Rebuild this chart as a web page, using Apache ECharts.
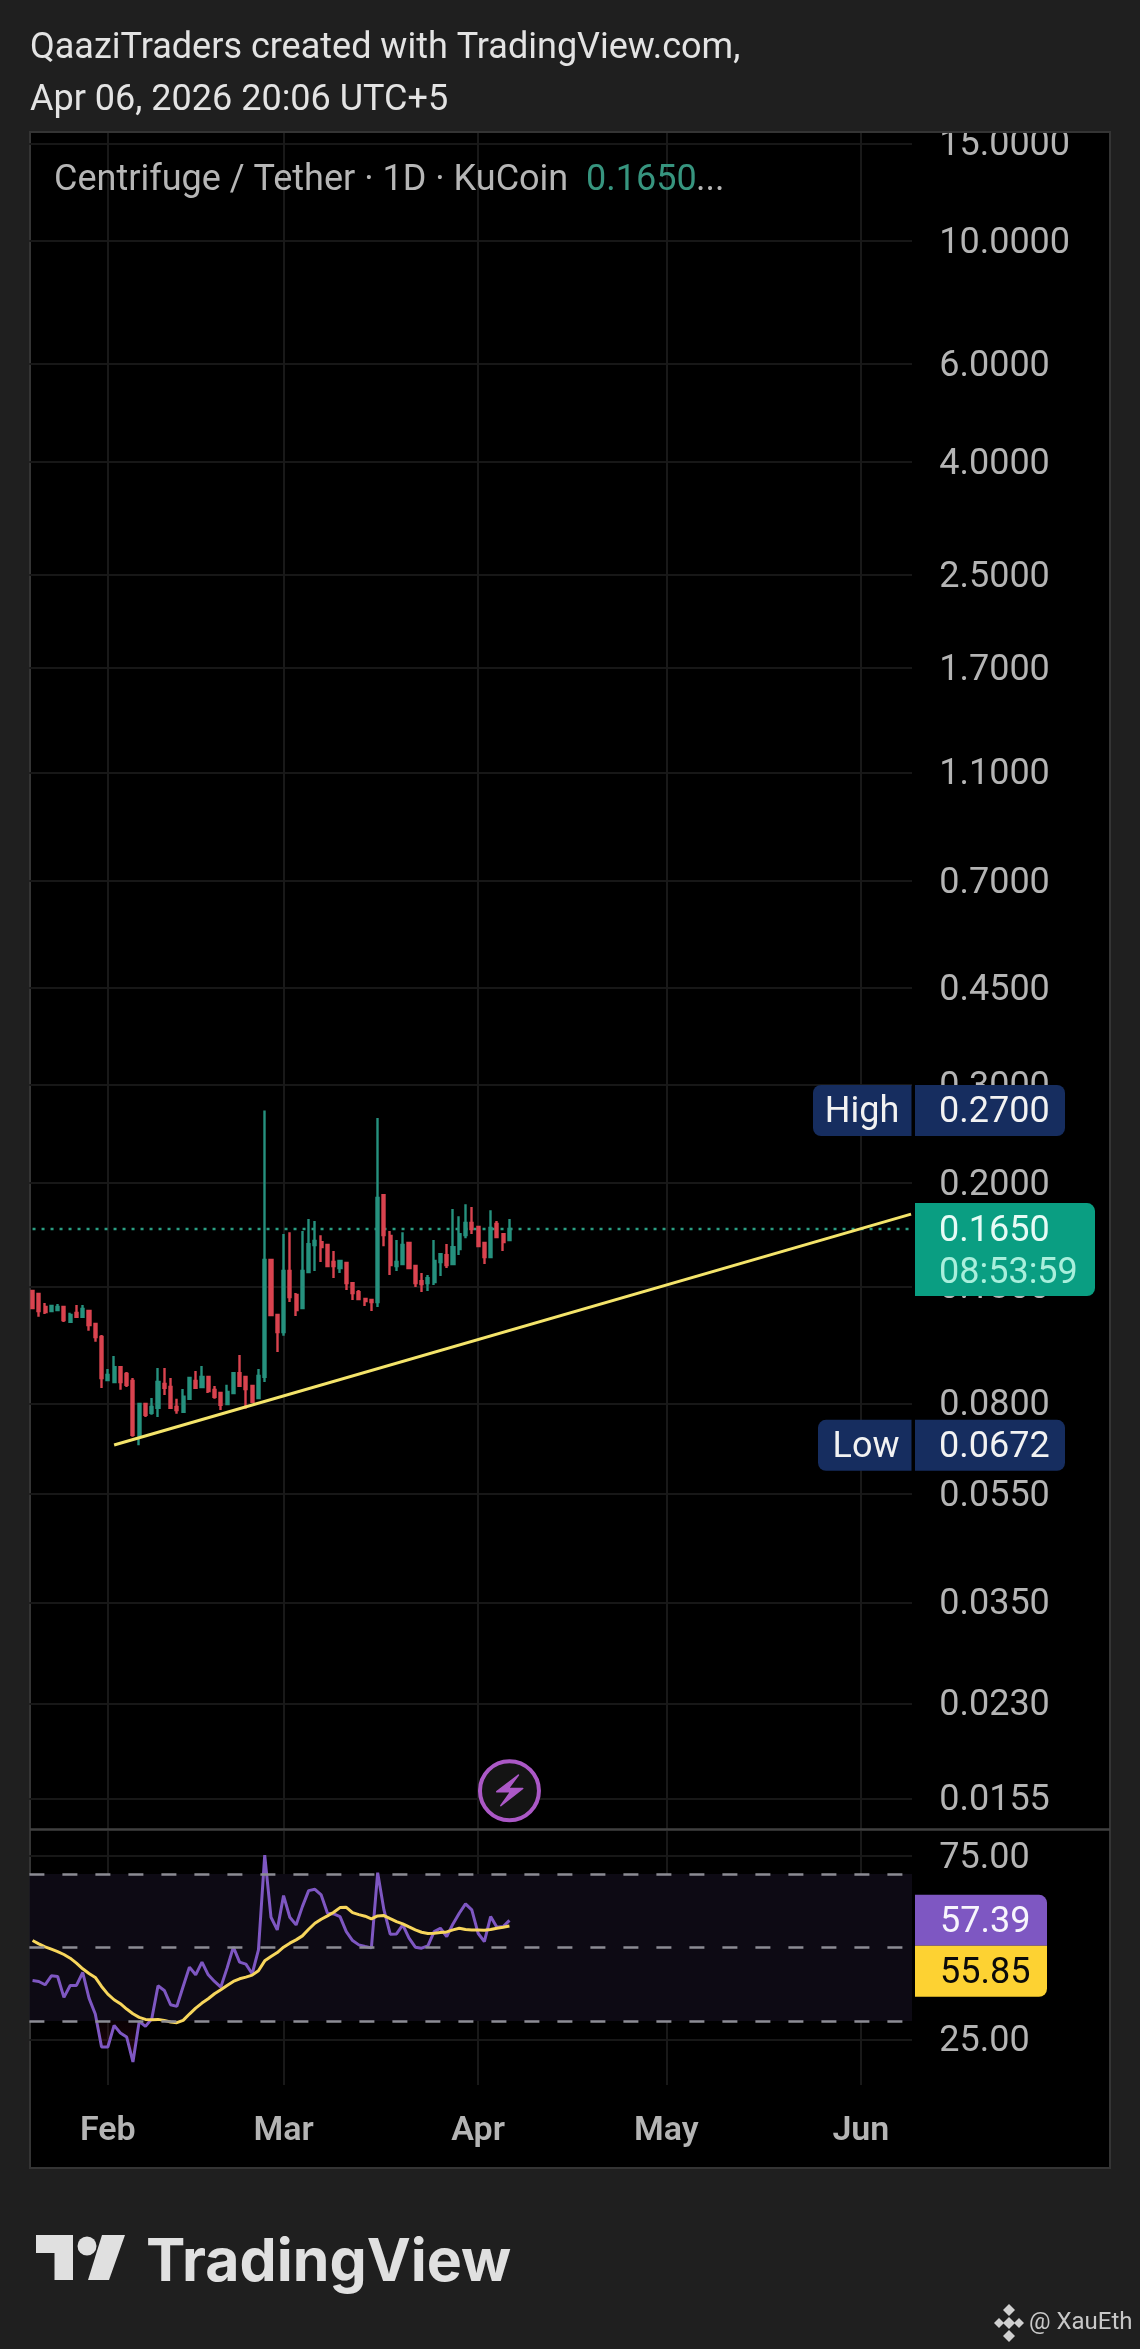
<!DOCTYPE html>
<html>
<head>
<meta charset="utf-8">
<style>html,body{margin:0;padding:0;background:#1f1f1f}#c{width:1140px;height:2349px}</style>
<script src="https://cdn.jsdelivr.net/npm/echarts@6/dist/echarts.min.js"></script>
</head>
<body>
<div id="c"></div>
<script>
const opens = [.1276,.1260,.1194,.1174,.1179,.1194,.1122,.1165,.1146,.1174,.1113,.1054,.0881,.0874,.0930,.0904,.0878,.0702,.0798,.0769,.0785,.0867,.0856,.0788,.0772,.0815,.0878,.0856,.0893,.0846,.0835,.0798,.0835,.0907,.0893,.0860,.0818,.0893,.1451,.1155,.1076,.1386,.1255,.1189,.1380,.1544,.1563,.1544,.1439,.1404,.1433,.1318,.1270,.1234,.1229,.1219,.1900,.1603,.1415,.1427,.1557,.1415,.1329,.1318,.1324,.1439,.1481,.1427,.1518,.1609,.1692,.1664,.1557,.1469,.1685,.1616,.1576];
const closes = [.1189,.1174,.1169,.1199,.1194,.1131,.1155,.1146,.1184,.1108,.1054,.0889,.0900,.0930,.0874,.0864,.0702,.0798,.0763,.0788,.0874,.0853,.0785,.0778,.0822,.0889,.0853,.0893,.0842,.0822,.0795,.0839,.0907,.0860,.0849,.0805,.0896,.1451,.1155,.1076,.1386,.1244,.1179,.1386,.1550,.1570,.1531,.1415,.1415,.1445,.1318,.1265,.1234,.1224,.1219,.1877,.1609,.1421,.1439,.1544,.1404,.1318,.1313,.1346,.1445,.1487,.1421,.1531,.1616,.1692,.1650,.1537,.1469,.1657,.1596,.1563,.1650];
const lows = [.1184,.1146,.1160,.1174,.1179,.1122,.1122,.1141,.1146,.1081,.1033,.0853,.0881,.0871,.0846,.0856,.0696,.0672,.0756,.0763,.0756,.0828,.0785,.0766,.0772,.0811,.0849,.0853,.0835,.0815,.0778,.0798,.0835,.0860,.0782,.0801,.0818,.0874,.1155,.0990,.1059,.1219,.1150,.1189,.1380,.1386,.1439,.1409,.1346,.1375,.1281,.1229,.1229,.1199,.1174,.1194,.1537,.1363,.1386,.1427,.1404,.1297,.1270,.1276,.1308,.1358,.1404,.1427,.1481,.1589,.1616,.1537,.1427,.1469,.1589,.1506,.1576];
const highs = [.1276,.1260,.1214,.1204,.1209,.1194,.1165,.1204,.1204,.1174,.1113,.1063,.0923,.0974,.0930,.0911,.0889,.0798,.0798,.0818,.0926,.0926,.0889,.0815,.0849,.0893,.0915,.0934,.0893,.0860,.0839,.0864,.0911,.0978,.0893,.0860,.0923,.2700,.1451,.1155,.1616,.1629,.1265,.1636,.1720,.1706,.1609,.1550,.1506,.1451,.1433,.1318,.1281,.1239,.1234,.2617,.1900,.1636,.1576,.1629,.1557,.1421,.1375,.1363,.1576,.1487,.1550,.1793,.1741,.1830,.1808,.1671,.1563,.1785,.1706,.1623,.1720];
const rsi = [41.04,40.77,39.86,42.31,42.13,36.43,39.68,39.68,43.21,36.24,31.90,22.94,22.94,28.82,26.74,25.66,18.87,29.91,28.55,30.63,39.59,38.33,34.43,33.98,39.41,44.66,42.58,46.02,42.58,40.77,39.23,44.39,50.09,46.02,45.48,42.85,49.37,75.16,58.24,54.80,64.12,58.24,56.15,61.13,65.48,65.84,64.30,59.32,59.14,58.42,54.34,51.90,50.72,50.27,49.91,70.36,60.23,53.62,53.71,56.15,52.53,50.09,49.82,50.45,54.34,55.25,52.99,56.43,59.32,61.86,60.23,53.89,51.63,58.42,55.52,55.70,57.39];
const rsiMa = [51.90,51.00,50.18,49.55,48.91,48.10,47.10,45.75,44.21,42.94,41.86,39.41,37.33,35.79,34.71,33.26,31.99,31.00,30.45,30.36,30.45,30.18,29.73,29.55,30.18,31.90,33.53,34.89,36.06,37.42,38.51,39.68,40.77,41.49,41.95,42.49,43.67,46.38,47.56,48.64,50.09,51.18,52.08,53.17,54.98,56.61,57.69,58.60,59.59,60.86,60.95,59.50,58.96,58.51,57.78,58.60,58.69,57.87,57.06,56.43,55.61,54.80,54.16,53.80,53.89,54.07,54.25,54.80,55.25,54.89,54.80,54.80,54.71,54.89,55.25,55.52,55.85];
const priceTicks = [15,10,6,4,2.5,1.7,1.1,.7,.45,.3,.2,.13,.08,.055,.035,.023,.0155];
const rsiTicks = [25,75];
const rsiLevels = [70,50,30];
const monthNames = {'02':'Feb','03':'Mar','04':'Apr','05':'May','06':'Jun'};
const trendPrices = [.0673,.1756];
const lastPrice = .1650, highPrice = .2700, lowPrice = .0672, lastRsi = 57.39, lastMa = 55.85;

const categories = [];
for (let d = new Date(Date.UTC(2026,0,20)); d <= new Date(Date.UTC(2026,5,9)); d = new Date(d.getTime()+864e5)) {
  categories.push(d.toISOString().slice(0,10));
}
const candles = opens.map((o,i)=>[o,closes[i],lows[i],highs[i]]);
const isMonth = (i,v)=>v.slice(8)==='01' && monthNames[v.slice(5,7)]!==undefined;
const UP='#26917e', DOWN='#d9434f', F='Roboto, sans-serif', LAB='#b4b4b4';
const V_GRID='#191919', H_GRID='#171717';

const chart = echarts.init(document.getElementById('c'));
chart.setOption({
  animation:false,
  backgroundColor:'#1f1f1f',
  grid:[
    {left:29.4,width:884.8,top:132,height:1697},
    {left:29.4,width:884.8,top:1831,height:254}
  ],
  xAxis:[
    {type:'category',gridIndex:0,data:categories,boundaryGap:true,
     axisLine:{show:false},axisTick:{show:false},axisLabel:{show:false},
     splitLine:{show:true,alignWithLabel:true,interval:isMonth,lineStyle:{color:V_GRID,width:2}}},
    {type:'category',gridIndex:1,data:categories,boundaryGap:true,
     axisLine:{show:false},axisTick:{show:false,alignWithLabel:true},
     axisLabel:{show:true,interval:isMonth,margin:46,verticalAlign:'middle',color:LAB,fontFamily:F,fontSize:34,fontWeight:600,
       formatter:v=>monthNames[v.slice(5,7)]},
     splitLine:{show:true,alignWithLabel:true,interval:isMonth,lineStyle:{color:V_GRID,width:2}}}
  ],
  yAxis:[
    {type:'log',gridIndex:0,position:'right',logBase:10,min:0.01365,max:15.73,
     axisLine:{show:false},axisTick:{show:false,customValues:priceTicks},
     axisLabel:{customValues:priceTicks,color:LAB,fontFamily:F,fontSize:36,margin:25,verticalAlign:'top',lineHeight:6,formatter:v=>(+v).toFixed(4),hideOverlap:false,showMinLabel:true,showMaxLabel:true},
     splitLine:{show:true,lineStyle:{color:H_GRID,width:2}}},
    {type:'value',gridIndex:1,position:'right',min:12.6,max:81.7,
     axisLine:{show:false},axisTick:{show:false,customValues:rsiTicks},
     axisLabel:{customValues:rsiTicks,color:LAB,fontFamily:F,fontSize:36,margin:25,verticalAlign:'top',lineHeight:6,formatter:v=>(+v).toFixed(2)},
     splitLine:{show:true,lineStyle:{color:H_GRID,width:2}}}
  ],
  series:[
    {type:'line',name:'Last price',xAxisIndex:0,yAxisIndex:0,z:1,symbol:'none',
     lineStyle:{color:'#2a9d82',type:[3,6],width:2.5},
     data:[[categories[0],lastPrice],[categories[140],lastPrice]]},
    {type:'candlestick',name:'CFG/USDT',xAxisIndex:0,yAxisIndex:0,data:candles,barWidth:2.6,
     itemStyle:{color:UP,color0:DOWN,borderColor:UP,borderColor0:DOWN,borderColorDoji:UP,borderWidth:2.4}},
    {type:'line',name:'Trend',xAxisIndex:0,yAxisIndex:0,z:4,symbol:'none',
     lineStyle:{color:'#f4e46a',width:3},
     data:[[categories[13],trendPrices[0]],[categories[140],trendPrices[1]]]},
    {type:'line',name:'Oversold',xAxisIndex:1,yAxisIndex:1,symbol:'none',lineStyle:{width:0,opacity:0},z:2,
     areaStyle:{origin:30,color:new echarts.graphic.LinearGradient(0,1,0,0,[{offset:0,color:'rgba(110,15,40,.55)'},{offset:1,color:'rgba(60,10,25,.25)'}])},
     data:rsi.map(v=>Math.min(v,30))},
    {type:'line',name:'RSI',xAxisIndex:1,yAxisIndex:1,symbol:'none',z:3,
     lineStyle:{color:'#7e57c2',width:3},data:rsi,
     markArea:{silent:true,itemStyle:{color:'#0d0a14'},data:[[{yAxis:rsiLevels[0]},{yAxis:rsiLevels[2]}]]},
     markLine:{silent:true,symbol:'none',label:{show:false},
       lineStyle:{color:'#8c8c94',type:[15,18],width:2.5},
       data:rsiLevels.map(v=>({yAxis:v}))}},
    {type:'line',name:'RSI MA',xAxisIndex:1,yAxisIndex:1,symbol:'none',z:4,
     lineStyle:{color:'#f7d65c',width:3},data:rsiMa}
  ]
});

const py = v=>chart.convertToPixel({yAxisIndex:0},v);
const ry = v=>chart.convertToPixel({yAxisIndex:1},v);
const boltX = chart.convertToPixel({xAxisIndex:0},categories[76]);
const txt=(text,x,y,fill,font,align)=>({type:'text',z:120,silent:true,style:{text,x,y:y+3,fill,font,align:align||'left',verticalAlign:'middle'}});
const box=(x,y,w,h,fill,r,z)=>({type:'rect',z:z||110,silent:true,shape:{x,y,width:w,height:h,r:r||0},style:{fill}});
const diamond=(cx,cy,s,fill)=>({type:'polygon',z:120,silent:true,shape:{points:[[cx,cy-s],[cx+s,cy],[cx,cy+s],[cx-s,cy]]},style:{fill}});
const NAVY='#162d5f', W='#f2f2f2';
const yH=py(highPrice), yL=py(lowPrice), yP=py(lastPrice), yR=ry(lastRsi), yM=ry(lastMa);
const font36='400 36px '+F;
chart.setOption({graphic:{elements:[
  {type:'rect',z:-10,silent:true,shape:{x:30,y:132,width:1080,height:2036},style:{fill:'#000',stroke:'#343434',lineWidth:2}},
  box(0,0,1140,131,'#1f1f1f',0,60),
  {type:'line',z:61,silent:true,shape:{x1:30,y1:132,x2:1110,y2:132},style:{stroke:'#343434',lineWidth:2}},
  {type:'line',z:61,silent:true,shape:{x1:30,y1:1829.5,x2:1110,y2:1829.5},style:{stroke:'#404040',lineWidth:2.5}},
  box(912,133,3.5,1695,'#000',0,5),
  box(912,1831,3.5,256,'#000',0,5),
  txt('QaaziTraders created with TradingView.com,',30,46,'#e3e3e3',font36),
  txt('Apr 06, 2026 20:06 UTC+5',30,98,'#e3e3e3',font36),
  txt('Centrifuge / Tether · 1D · KuCoin',54,178,'#b6b6b6',font36),
  txt('0.1650',586,178,'#37957f',font36),
  txt('...',696,178,'#b6b6b6',font36),
  box(813,yH-25.5,98.5,51,NAVY,[8,0,0,8]),
  txt('High',862,yH-1,W,font36,'center'),
  box(915,yH-25.5,150,51,NAVY,[0,8,8,0]),
  txt('0.2700',939,yH-1,W,font36),
  box(818,yL-25.5,93.5,51,NAVY,[8,0,0,8]),
  txt('Low',866,yL,W,font36,'center'),
  box(915,yL-25.5,150,51,NAVY,[0,8,8,0]),
  txt('0.0672',939,yL,W,font36),
  box(915,yP-26,180,93,'#0a9e82',[0,8,8,0]),
  txt('0.1650',939,yP,'#e6fbf5',font36),
  txt('08:53:59',939,yP+42,'#a9efdc',font36),
  box(915,yR-25.5,132,51,'#7e57c2',[0,8,0,0]),
  txt('57.39',940,yR,'#f7f5fc',font36),
  box(915,yR+25.5,132,51,'#fdd232',[0,0,8,0]),
  txt('55.85',940,yR+51,'#0a0a0a',font36),
  {type:'circle',z:120,silent:true,shape:{cx:boltX,cy:1790.7,r:29.5},style:{fill:'#141414',stroke:'#ab58c6',lineWidth:4}},
  {type:'polygon',z:121,silent:true,x:boltX,y:1790.7,
   shape:{points:[[9,-15.7],[-12.7,1],[1.3,1],[-8.7,15],[13.3,-2.3],[-1,-2.3]]},style:{fill:'#ab58c6',stroke:'#ab58c6',lineWidth:1.5,lineJoin:'round'}},
  {type:'polygon',z:120,silent:true,shape:{points:[[36,2235],[73,2235],[73,2280],[54.5,2280],[54.5,2253],[36,2253]]},style:{fill:'#e0e0e0'}},
  {type:'circle',z:120,silent:true,shape:{cx:87,cy:2246,r:9.5},style:{fill:'#e0e0e0'}},
  {type:'polygon',z:120,silent:true,shape:{points:[[102,2235],[125,2235],[109,2280],[88,2280]]},style:{fill:'#e0e0e0'}},
  txt('TradingView',146,2260,'#e0e0e0','700 59px Inter, '+F),
  diamond(1009,2310,6,'#d0d0d0'),
  diamond(1009,2336,6,'#d0d0d0'),
  diamond(999,2323,5,'#d0d0d0'),
  diamond(1019,2323,5,'#d0d0d0'),
  diamond(1009,2323,6,'#d0d0d0'),
  txt('@ XauEth',1029,2320,'#c8c8c8','400 24px '+F)
]}});
</script>
</body>
</html>
